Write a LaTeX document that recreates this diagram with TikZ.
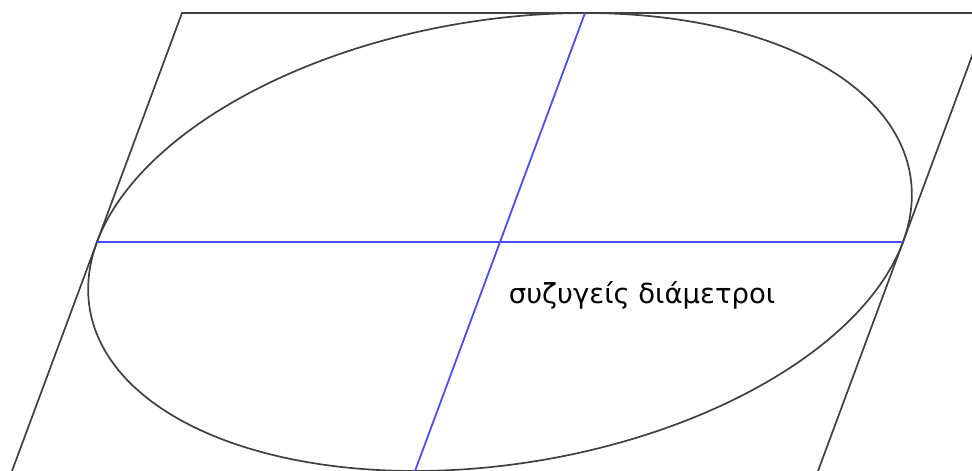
\documentclass[tikz,border=0pt]{standalone}
\usepackage{fontspec}
\newfontfamily\greekfont{DejaVu Sans}
\begin{document}
\begin{tikzpicture}[x=1pt,y=-1pt,
  frame/.style={draw=black!75,line width=1.7pt},
  diam/.style={draw=blue!70!white,line width=1.8pt},
  lbl/.style={font=\greekfont\fontsize{27.5}{32}\selectfont,text=black,inner sep=0pt}]
\useasboundingbox (0,0) rectangle (972,471);
\clip (0,0) rectangle (972,471);
\coordinate (O) at (500,242);
\coordinate (A) at (97,242);
\coordinate (B) at (903,242);
\coordinate (T) at (585,13);
\coordinate (D) at (415,471);
\coordinate (P1) at (182,13);
\coordinate (P2) at (988,13);
\coordinate (P3) at (818,471);
\coordinate (P4) at (12,471);
\draw[frame] (P4) -- (P1) -- (P2) -- (P3);
\draw[frame] plot[domain=0:360,samples=240,smooth]
  ({500+403*cos(\x)+85*sin(\x)},{242-229*sin(\x)});
\draw[diam] (A) -- (B);
\draw[diam] (T) -- (D);
\node[lbl] (L) at (642,295) {συζυγείς διάμετροι};
\end{tikzpicture}
\end{document}
